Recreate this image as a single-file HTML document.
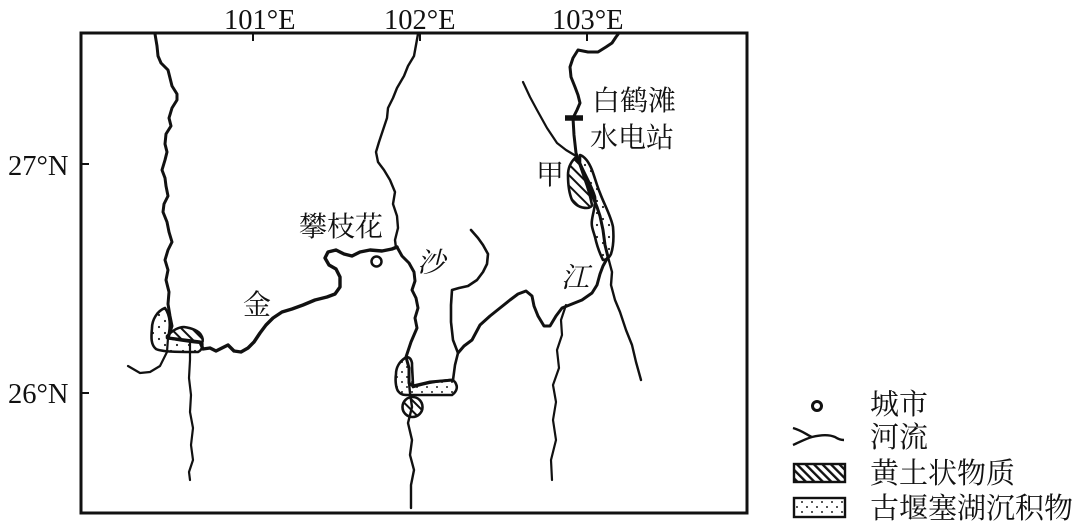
<!DOCTYPE html>
<html><head><meta charset="utf-8"><style>
html,body{margin:0;padding:0;background:#fff}
svg{display:block}
text{font-family:"Liberation Serif","Noto Serif CJK SC",serif;fill:#111}
</style></head><body>
<svg width="1080" height="530" viewBox="0 0 1080 530" xmlns="http://www.w3.org/2000/svg">
<defs>
<pattern id="h" width="7.500" height="7.500" patternUnits="userSpaceOnUse" patternTransform="rotate(-45)"><rect width="7.500" height="7.500" fill="#fff"/><rect x="0" width="2" height="7.500" fill="#111"/></pattern>
<pattern id="h2" width="6" height="6" patternUnits="userSpaceOnUse" patternTransform="rotate(-45)"><rect width="6" height="6" fill="#fff"/><rect x="0" width="2.400" height="6" fill="#111"/></pattern>
<pattern id="d" width="12" height="12" patternUnits="userSpaceOnUse"><rect width="12" height="12" fill="#fff"/><circle cx="3" cy="3" r="1.100" fill="#222"/><circle cx="9" cy="9" r="1.100" fill="#222"/></pattern>
<pattern id="d2" width="10" height="10" patternUnits="userSpaceOnUse"><rect width="10" height="10" fill="#fff"/><circle cx="2" cy="2" r="1" fill="#222"/><circle cx="7" cy="7" r="1" fill="#222"/></pattern>
</defs>
<rect x="81" y="33" width="666" height="480" fill="#fff" stroke="#111" stroke-width="3"/>
<path d="M253 33V41M420 33V41M587 33V41M81 164H89M81 393H89" stroke="#111" stroke-width="2" fill="none"/>
<g font-size="28.500">
<text x="224" y="29">101°E</text>
<text x="384" y="29">102°E</text>
<text x="552" y="29">103°E</text>
<text x="8" y="175">27°N</text>
<text x="8" y="403">26°N</text>
</g>

<!-- deposits -->
<g stroke="#111" stroke-width="2.600" stroke-linejoin="round">
<path d="M165 308C157 311 152 320 152 328C151 338 151 345 156 349C162 352 180 352 198 352C202 350 203 346 202 342L168 338C170 330 172 318 165 308Z" fill="url(#d)"/>
<path d="M167 336C172 331 178 327 184 327C192 328 199 331 201 335C203 338 203 341 202 343C190 342 178 340 167 338Z" fill="url(#h)"/>
<path d="M405 358C399 362 396 368 396 374C395 381 396 388 398 391C401 395 404 395 408 395L452 395C456 392 458 388 456 384C455 381 453 380 450 380C440 381 430 382 413 387C413 380 412 370 412 363C411 358 408 356 405 358Z" fill="url(#d2)"/>
<circle cx="412.500" cy="407" r="10" fill="url(#h)"/>
<path d="M580 155C586 157 590 165 592 170C595 178 597 186 600 193C604 204 611 216 613 227C614 238 613 248 611 254C609 258 606 260 603 260C600 254 597 246 595 237C593 230 591 226 592 220C593 212 596 205 595 197C592 186 585 175 580 163Z" fill="url(#d)"/>
<path d="M575 158C571 162 568 168 568 175C568 184 569 193 572 200C576 206 582 208 587 208C590 208 592 206 592 205C590 195 588 188 585 180C583 174 581 168 579 162Z" fill="url(#h)"/>
</g>

<!-- rivers -->
<g fill="none" stroke="#111" stroke-linecap="round" stroke-linejoin="round">
<polyline stroke-width="3" points="155,34 157,46 158,56 161,63 168,70 170,78 172,86 177,94 177,100 172,108 169,118 171,126 166,134 165,144 167,152 165,160 162,170 165,178 166,186 168,196 164,204 163,212 167,222 169,232 172,242 168,250 165,260 168,270 166,280 169,292 168,304 170,316 172,326 168,338"/>
<polyline stroke-width="3.400" points="168,338 184,340 200,342 203,349 210,348 216,351 222,348 228,345 234,351 241,352 248,348 254,342 260,333 266,325 273,318 282,312 292,309 303,305 315,300 327,297 335,294 340,287 340,277 336,269 329,265 325,258 328,252 336,250 344,254 352,256 360,252 370,250 382,251 392,249 397,247"/>
<polyline stroke-width="3" points="397,247 402,256 409,263 414,272 415,281 412,290 416,298 418,308 415,318 417,328 414,335 411,342 406,357 409,368 409,383 413,386 430,382 453,380"/>
<polyline stroke-width="2.400" points="418,34 416,45 414,56 408,66 404,76 397,88 393,98 388,108 387,118 383,130 379,142 376,152 378,162 384,170 390,180 395,192 393,204 397,216 398,228 395,240 396,248"/>
<polyline stroke-width="2.600" points="471,230 478,238 483,245 488,254 487,264 483,272 477,280 468,286 459,288 452,290 451,305 451,322 453,340 458,353 455,365 453,380"/>
<polyline stroke-width="3" points="458,353 464,346 472,340 480,325 490,316 500,308 510,300 518,294 526,291 532,296 534,306 538,316 544,326 550,326 556,316 562,308 572,304 582,300 592,293 597,285 600,274 603,266 608,257 605,245 603,230 600,216 597,207 590,190 582,170 576,153 574,135 573,118 577,110 580,103 578,95 575,87 571,77 570,67 573,58 578,50 588,52 598,52 606,47 612,43 616,37 619,33"/>
<polyline stroke-width="2.200" points="523,82 530,97 537,110 547,128 557,143 566,150 576,156"/>
<polyline stroke-width="2.200" points="168,338 167,352 160,366 150,372 140,373 128,366"/>
<polyline stroke-width="2.200" points="190,342 190,360 189,378 191,395 190,412 193,428 191,445 193,460 189,472 190,480"/>
<polyline stroke-width="2.400" points="409,383 410,393 412,407 408,423 412,440 410,455 414,470 411,485 411,508"/>
<polyline stroke-width="2.400" points="608,257 612,272 611,285 615,300 620,312 626,330 632,345 636,362 641,380"/>
<polyline stroke-width="2.200" points="566,305 561,320 562,335 557,350 559,368 553,385 556,402 553,420 556,440 551,460 552,480"/>
</g>
<path d="M565 118H583" stroke="#111" stroke-width="5.500"/>
<circle cx="376.500" cy="261.500" r="5" fill="#fff" stroke="#111" stroke-width="2.500"/>

<g font-size="28">
<text x="299" y="236">攀枝花</text>
<text x="592" y="110">白鹤滩</text>
<text x="590" y="147">水电站</text>
<text x="536" y="184">甲</text>
<text x="243" y="314">金</text>
<text x="417" y="272" font-style="italic">沙</text>
<text x="561" y="287" font-style="italic">江</text>
</g>

<!-- legend -->
<circle cx="817" cy="406" r="4.500" fill="#fff" stroke="#111" stroke-width="3"/>
<path d="M793 428C803 431 807 435 812 437C805 439 800 442 793 445M812 437C820 435 828 434 835 437C838 439 841 440 844 440" fill="none" stroke="#111" stroke-width="2.400"/>
<rect x="794" y="464" width="51" height="18" fill="url(#h2)" stroke="#111" stroke-width="2.400"/>
<rect x="794" y="498" width="51" height="19" fill="url(#d2)" stroke="#111" stroke-width="2.400"/>
<g font-size="29">
<text x="870" y="414">城市</text>
<text x="870" y="447">河流</text>
<text x="870" y="483">黄土状物质</text>
<text x="870" y="518">古堰塞湖沉积物</text>
</g>
</svg>
</body></html>
